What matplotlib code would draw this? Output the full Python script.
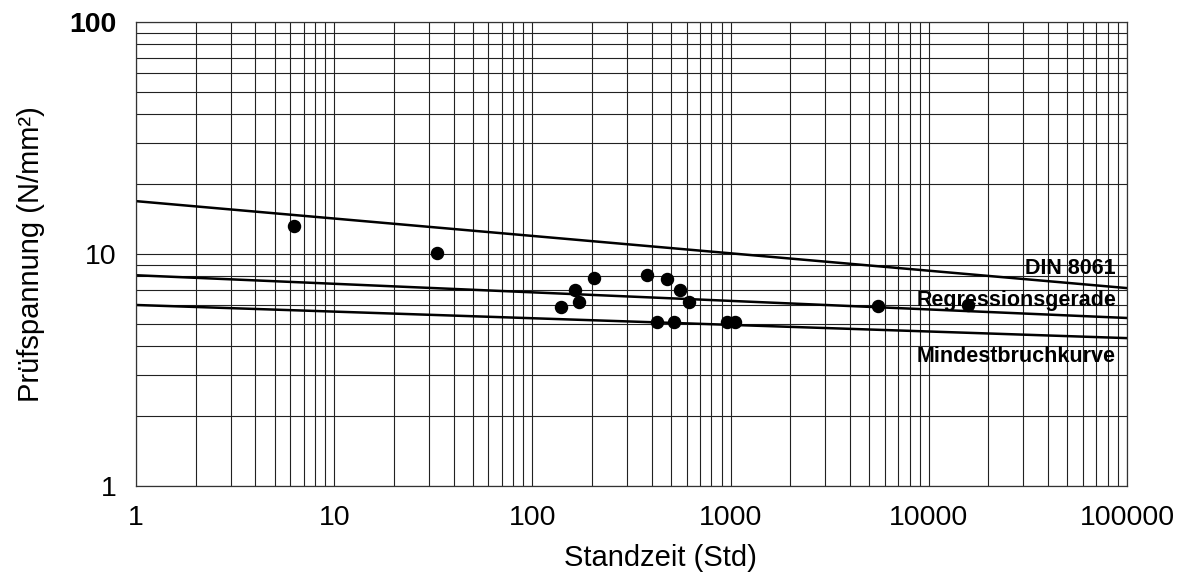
import numpy as np
import matplotlib.pyplot as plt
from matplotlib.ticker import LogLocator, NullFormatter, FixedLocator, FixedFormatter

plt.rcParams['font.family'] = ['Liberation Sans', 'DejaVu Sans']

# measured test points (Standzeit in h, Prüfspannung in N/mm²)
standzeit = [6.3, 33, 139, 164, 171, 204, 380, 476, 557, 617, 425, 516, 956, 1053, 5540, 15800]
spannung = [13.2, 10.1, 5.9, 7.0, 6.2, 7.9, 8.1, 7.8, 7.0, 6.2, 5.1, 5.1, 5.1, 5.07, 5.97, 6.03]

# straight lines in log-log, given by their end values at x=1 and x=100000
line_x = [1, 100000]
din_8061 = [16.9, 7.13]
regression = [8.1, 5.3]
mindest = [6.03, 4.34]

line_names = ["DIN 8061", "Regressionsgerade", "Mindestbruchkurve"]
label_y = [8.7, 6.3, 3.6]

x_ticks = [1, 10, 100, 1000, 10000, 100000]
y_ticks = [1, 10, 100]

fig = plt.figure(figsize=(11.92, 5.73), dpi=100)
ax = fig.add_axes([0.1141, 0.1518, 0.8314, 0.8098])

ax.set_xscale('log')
ax.set_yscale('log')
ax.set_xlim(1, 100000)
ax.set_ylim(1, 100)

ax.xaxis.set_minor_locator(LogLocator(base=10, subs=np.arange(2, 10)))
ax.yaxis.set_minor_locator(LogLocator(base=10, subs=np.arange(2, 10)))
ax.xaxis.set_minor_formatter(NullFormatter())
ax.yaxis.set_minor_formatter(NullFormatter())
ax.xaxis.set_major_locator(FixedLocator(x_ticks))
ax.xaxis.set_major_formatter(FixedFormatter([str(v) for v in x_ticks]))
ax.yaxis.set_major_locator(FixedLocator(y_ticks))
ax.yaxis.set_major_formatter(FixedFormatter([str(v) for v in y_ticks]))

ax.grid(True, which='both', color='#222222', linewidth=0.8)
ax.set_axisbelow(True)
ax.tick_params(which='both', length=0)
ax.tick_params(axis='x', labelsize=20.5, pad=14)
ax.tick_params(axis='y', labelsize=20.5, pad=14)
ax.get_yticklabels()[-1].set_fontweight('bold')
for s in ax.spines.values():
    s.set_color('#333333')
    s.set_linewidth(0.9)

for vals in (din_8061, regression, mindest):
    ax.plot(line_x, vals, color='black', linewidth=1.8)

ax.scatter(standzeit, spannung, s=75, color='black', zorder=3)

for name, yv in zip(line_names, label_y):
    ax.text(88000, yv, name, ha='right', va='center', fontsize=15.5,
            fontweight='bold', color='black', zorder=4)

ax.set_xlabel("Standzeit (Std)", fontsize=21)
ax.set_ylabel("Prüfspannung (N/mm²)", fontsize=21)
ax.xaxis.set_label_coords(0.529, -0.125)
ax.yaxis.set_label_coords(-0.092, 0.5)

plt.savefig("out.png", dpi=100)
